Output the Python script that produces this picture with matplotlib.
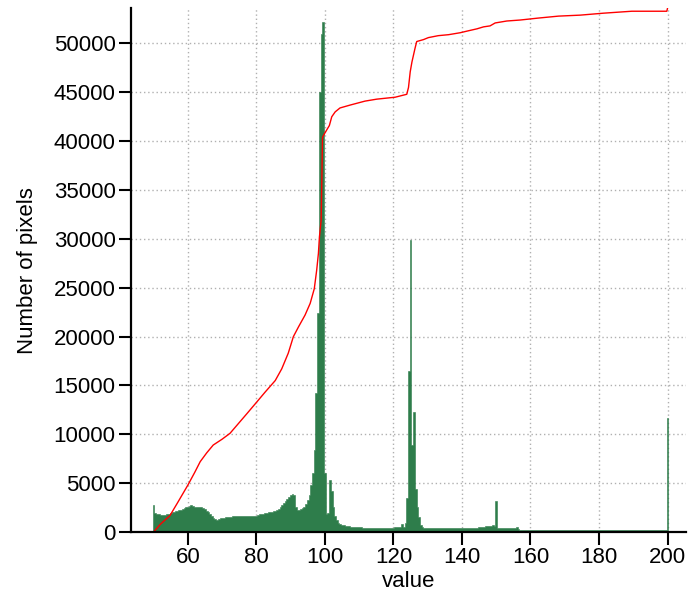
import numpy as np
import matplotlib
matplotlib.use("Agg")
import matplotlib.pyplot as plt

plt.rcParams['font.family'] = ['Liberation Sans', 'DejaVu Sans']

# histogram: bin centres every 0.5 from 50.0 to 200.0
bin_start = 50.0
bin_width = 0.5
counts = [
    2800, 1950, 1850, 1800, 1750, 1700, 1700, 1750, 1800, 1850,   # 50.0-54.5
    1900, 2000, 2050, 2100, 2200, 2250, 2300, 2400, 2450, 2550,   # 55.0-59.5
    2600, 2700, 2800, 2700, 2600, 2550, 2600, 2550, 2600, 2500,   # 60.0-64.5
    2350, 2200, 2050, 1850, 1650, 1450, 1300, 1250, 1350, 1400,   # 65.0-69.5
    1450, 1450, 1500, 1500, 1550, 1550, 1600, 1600, 1600, 1600,   # 70.0-74.5
    1650, 1600, 1600, 1600, 1600, 1600, 1600, 1600, 1600, 1600,   # 75.0-79.5
    1650, 1750, 1800, 1850, 1850, 1900, 1950, 2000, 2000, 2050,   # 80.0-84.5
    2100, 2150, 2250, 2400, 2600, 2800, 3000, 3200, 3400, 3600,   # 85.0-89.5
    3750, 3850, 3800, 2600, 2300, 2250, 2350, 2450, 2600, 2900,   # 90.0-94.5
    3300, 3800, 4800, 6000, 8400, 14200, 22400, 45000, 51000, 52200,  # 95.0-99.5
    6000, 1800, 1900, 5300, 4200, 2600, 1600, 1200, 950, 800,     # 100.0-104.5
    750, 700, 650, 600, 600, 550, 550, 550, 500, 500,             # 105.0-109.5
    500, 500, 450, 450, 450, 450, 450, 450, 450, 450,             # 110.0-114.5
    450, 450, 450, 450, 450, 450, 450, 450, 450, 450,             # 115.0-119.5
    450, 500, 500, 550, 500, 800, 550, 900, 3500, 16500,          # 120.0-124.5
    29900, 8900, 12300, 4400, 2600, 1500, 750, 500, 450, 450,     # 125.0-129.5
    450, 450, 450, 450, 450, 450, 450, 450, 450, 450,             # 130.0-134.5
    450, 450, 450, 450, 450, 450, 450, 450, 450, 450,             # 135.0-139.5
    450, 450, 450, 450, 450, 450, 450, 450, 450, 450,             # 140.0-144.5
    500, 500, 550, 550, 600, 600, 650, 650, 700, 600,             # 145.0-149.5
    3200, 400, 400, 400, 400, 400, 400, 400, 400, 400,            # 150.0-154.5
    400, 450, 500, 300, 200, 200, 200, 200, 200, 200,             # 155.0-159.5
    200, 200, 200, 200, 200, 200, 200, 200, 200, 200,             # 160.0-164.5
    200, 200, 200, 200, 200, 200, 200, 200, 200, 200,             # 165.0-169.5
    200, 200, 200, 200, 200, 200, 200, 200, 200, 200,             # 170.0-174.5
    200, 200, 200, 200, 200, 200, 200, 200, 200, 200,             # 175.0-179.5
    200, 200, 200, 200, 200, 200, 200, 200, 200, 200,             # 180.0-184.5
    200, 200, 200, 200, 200, 200, 200, 200, 200, 200,             # 185.0-189.5
    200, 200, 200, 200, 200, 200, 200, 200, 200, 200,             # 190.0-194.5
    200, 200, 200, 200, 200, 200, 200, 200, 200, 200,             # 195.0-199.5
    11700,                                                        # 200.0
]

# cumulative curve (value, height on the same axis)
cum_x = [50.0, 52.0, 54.8, 57.0, 60.0, 62.0, 63.6, 65.5, 67.4, 70.0,
         72.3, 77.2, 80.1, 82.5, 85.5, 87.4, 89.3, 90.8, 92.3, 94.2,
         95.7, 96.9, 97.6, 98.1, 98.4, 98.9, 99.1, 99.3, 100.1, 101.3,
         102.0, 103.0, 104.4, 107.4, 111.7, 115.1, 120.5, 123.9, 124.4, 124.9,
         125.4, 126.3, 126.8, 128.8, 130.2, 133.1, 136.1, 139.5, 141.9, 144.4,
         146.3, 148.2, 149.7, 153.1, 157.0, 162.3, 168.2, 174.5, 181.3, 189.6,
         199.8, 200.0]
cum_y = [0, 800, 1700, 3000, 4800, 6100, 7200, 8100, 8900, 9500,
         10100, 12100, 13300, 14300, 15500, 16700, 18300, 20000, 21000, 22200,
         23400, 24900, 26800, 28500, 30200, 31900, 36000, 40400, 40900, 41600,
         42500, 43000, 43400, 43700, 44100, 44300, 44500, 44800, 45500, 47100,
         48100, 49500, 50200, 50400, 50600, 50800, 50900, 51100, 51300, 51500,
         51700, 51800, 52100, 52300, 52400, 52600, 52800, 52900, 53100, 53300,
         53300, 53600]

x_ticks = [60, 80, 100, 120, 140, 160, 180, 200]
y_ticks = [0, 5000, 10000, 15000, 20000, 25000, 30000, 35000, 40000, 45000, 50000]

fig = plt.figure(figsize=(6.88, 5.93), dpi=100)
ax = fig.add_axes([131/688, 1 - 532/593, (686 - 131)/688, (532 - 8.3)/593])

n = len(counts)
edges = bin_start - bin_width/2 + bin_width*np.arange(n + 1)
ax.stairs(counts, edges, fill=True, facecolor='#2e7d4b', edgecolor='#2e7d4b',
          linewidth=0.4)
ax.plot(cum_x, cum_y, color='#ff0000', linewidth=1.0)

ax.set_xlim(43.4, 205.4)
ax.set_ylim(0, 53600)
ax.set_xticks(x_ticks)
ax.set_xticklabels([str(t) for t in x_ticks])
ax.set_yticks(y_ticks)
ax.set_yticklabels([str(t) for t in y_ticks])

ax.grid(True, color='#b0b0b0', linestyle=(0, (1, 2)), linewidth=1.0)
ax.set_axisbelow(True)

for s in ['top', 'right']:
    ax.spines[s].set_visible(False)
for s in ['left', 'bottom']:
    ax.spines[s].set_linewidth(1.6)
    ax.spines[s].set_color('black')

ax.tick_params(axis='both', direction='out', length=9, width=1.5,
               labelsize=16, colors='black', pad=2)

ax.set_xlabel('value', fontsize=16, labelpad=2)
ax.set_ylabel('Number of pixels', fontsize=16, labelpad=11)

fig.savefig('out.png', dpi=100)
